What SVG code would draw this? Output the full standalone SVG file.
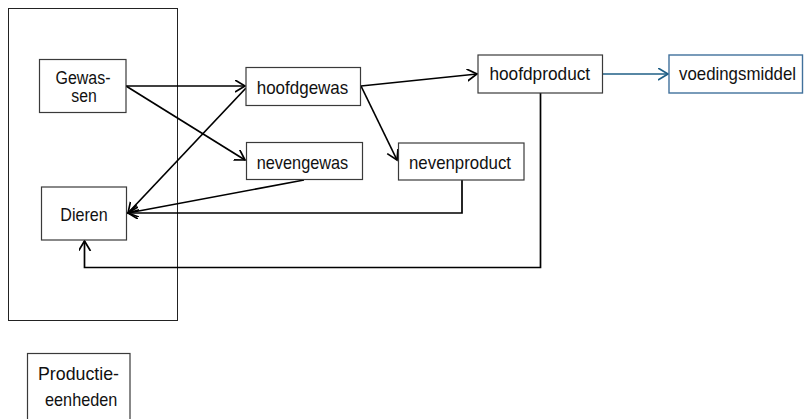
<svg xmlns="http://www.w3.org/2000/svg" width="804" height="419" viewBox="0 0 804 419">
<defs>
<style>
.box{fill:#fff;stroke:#3a3a3a;stroke-width:1.2}
.bbox{fill:#fff;stroke:#41719c;stroke-width:1.4}
.frame{fill:none;stroke:#222;stroke-width:1}
.t{font-family:"Liberation Sans",Arial,sans-serif;font-size:19px;fill:#111;text-anchor:middle}
.t2{font-size:17.5px}
.c{fill:none;stroke:#000;stroke-width:1.7;stroke-linejoin:miter}
.cb{fill:none;stroke:#1f5f86;stroke-width:1.7}
</style>
<marker id="a" markerUnits="userSpaceOnUse" markerWidth="14" markerHeight="14" refX="10" refY="6" orient="auto" viewBox="0 0 14 14">
<path d="M0,0 L10,6 L0,12" fill="none" stroke="#000" stroke-width="1.7"/>
</marker>
<marker id="ab" markerUnits="userSpaceOnUse" markerWidth="14" markerHeight="14" refX="10" refY="6" orient="auto" viewBox="0 0 14 14">
<path d="M0,0 L10,6 L0,12" fill="none" stroke="#1f5f86" stroke-width="1.7"/>
</marker>
</defs>
<rect width="804" height="419" fill="#fff"/>
<rect id="productie-frame" class="frame" x="8.5" y="8.5" width="169" height="312"/>
<g id="connectors">
<path class="c" d="M126,86 L245,86" marker-end="url(#a)"/>
<path class="c" d="M126,86 L245,160" marker-end="url(#a)"/>
<path class="c" d="M246,88 L128,213" marker-end="url(#a)"/>
<path class="c" d="M304,180 L128,213" marker-end="url(#a)"/>
<path class="c" d="M462,180 L462,213 L128,213" marker-end="url(#a)"/>
<path class="c" d="M540.5,93 L540.5,267.5 L84.5,267.5 L84.5,241" marker-end="url(#a)"/>
<path class="c" d="M361,86 L477,74" marker-end="url(#a)"/>
<path class="c" d="M361,86 L397,160" marker-end="url(#a)"/>
<path class="cb" d="M603,74 L668,74" marker-end="url(#ab)"/>
</g>
<g id="gewassen">
<rect class="box" x="39.5" y="59.5" width="86.5" height="53"/>
<text class="t t2" x="83" y="83.5" textLength="55" lengthAdjust="spacingAndGlyphs">Gewas-</text>
<text class="t t2" x="84" y="102" textLength="25.5" lengthAdjust="spacingAndGlyphs">sen</text>
</g>
<g id="dieren">
<rect class="box" x="41.5" y="187" width="85" height="53"/>
<text class="t" x="84" y="221" textLength="47.5" lengthAdjust="spacingAndGlyphs">Dieren</text>
</g>
<g id="hoofdgewas">
<rect class="box" x="246" y="67.5" width="114.5" height="38"/>
<text class="t" x="302.5" y="93.5" textLength="91.6" lengthAdjust="spacingAndGlyphs">hoofdgewas</text>
</g>
<g id="nevengewas">
<rect class="box" x="246.5" y="142.5" width="116" height="37"/>
<text class="t" x="302.5" y="168.5" textLength="91.6" lengthAdjust="spacingAndGlyphs">nevengewas</text>
</g>
<g id="nevenproduct">
<rect class="box" x="398.5" y="143" width="125.5" height="37"/>
<text class="t" x="460" y="168.5" textLength="102" lengthAdjust="spacingAndGlyphs">nevenproduct</text>
</g>
<g id="hoofdproduct">
<rect class="box" x="478" y="55" width="124.5" height="38"/>
<text class="t" x="539.8" y="79.5" textLength="100.7" lengthAdjust="spacingAndGlyphs">hoofdproduct</text>
</g>
<g id="voedingsmiddel">
<rect class="bbox" x="669" y="55" width="133.5" height="38"/>
<text class="t" x="737.5" y="79.5" textLength="117" lengthAdjust="spacingAndGlyphs">voedingsmiddel</text>
</g>
<g id="productie-eenheden">
<rect class="box" x="27.5" y="353.5" width="102.5" height="70"/>
<text class="t" x="78.5" y="379.5" textLength="81" lengthAdjust="spacingAndGlyphs">Productie-</text>
<text class="t" x="81.2" y="406" textLength="72.3" lengthAdjust="spacingAndGlyphs">eenheden</text>
</g>
</svg>
